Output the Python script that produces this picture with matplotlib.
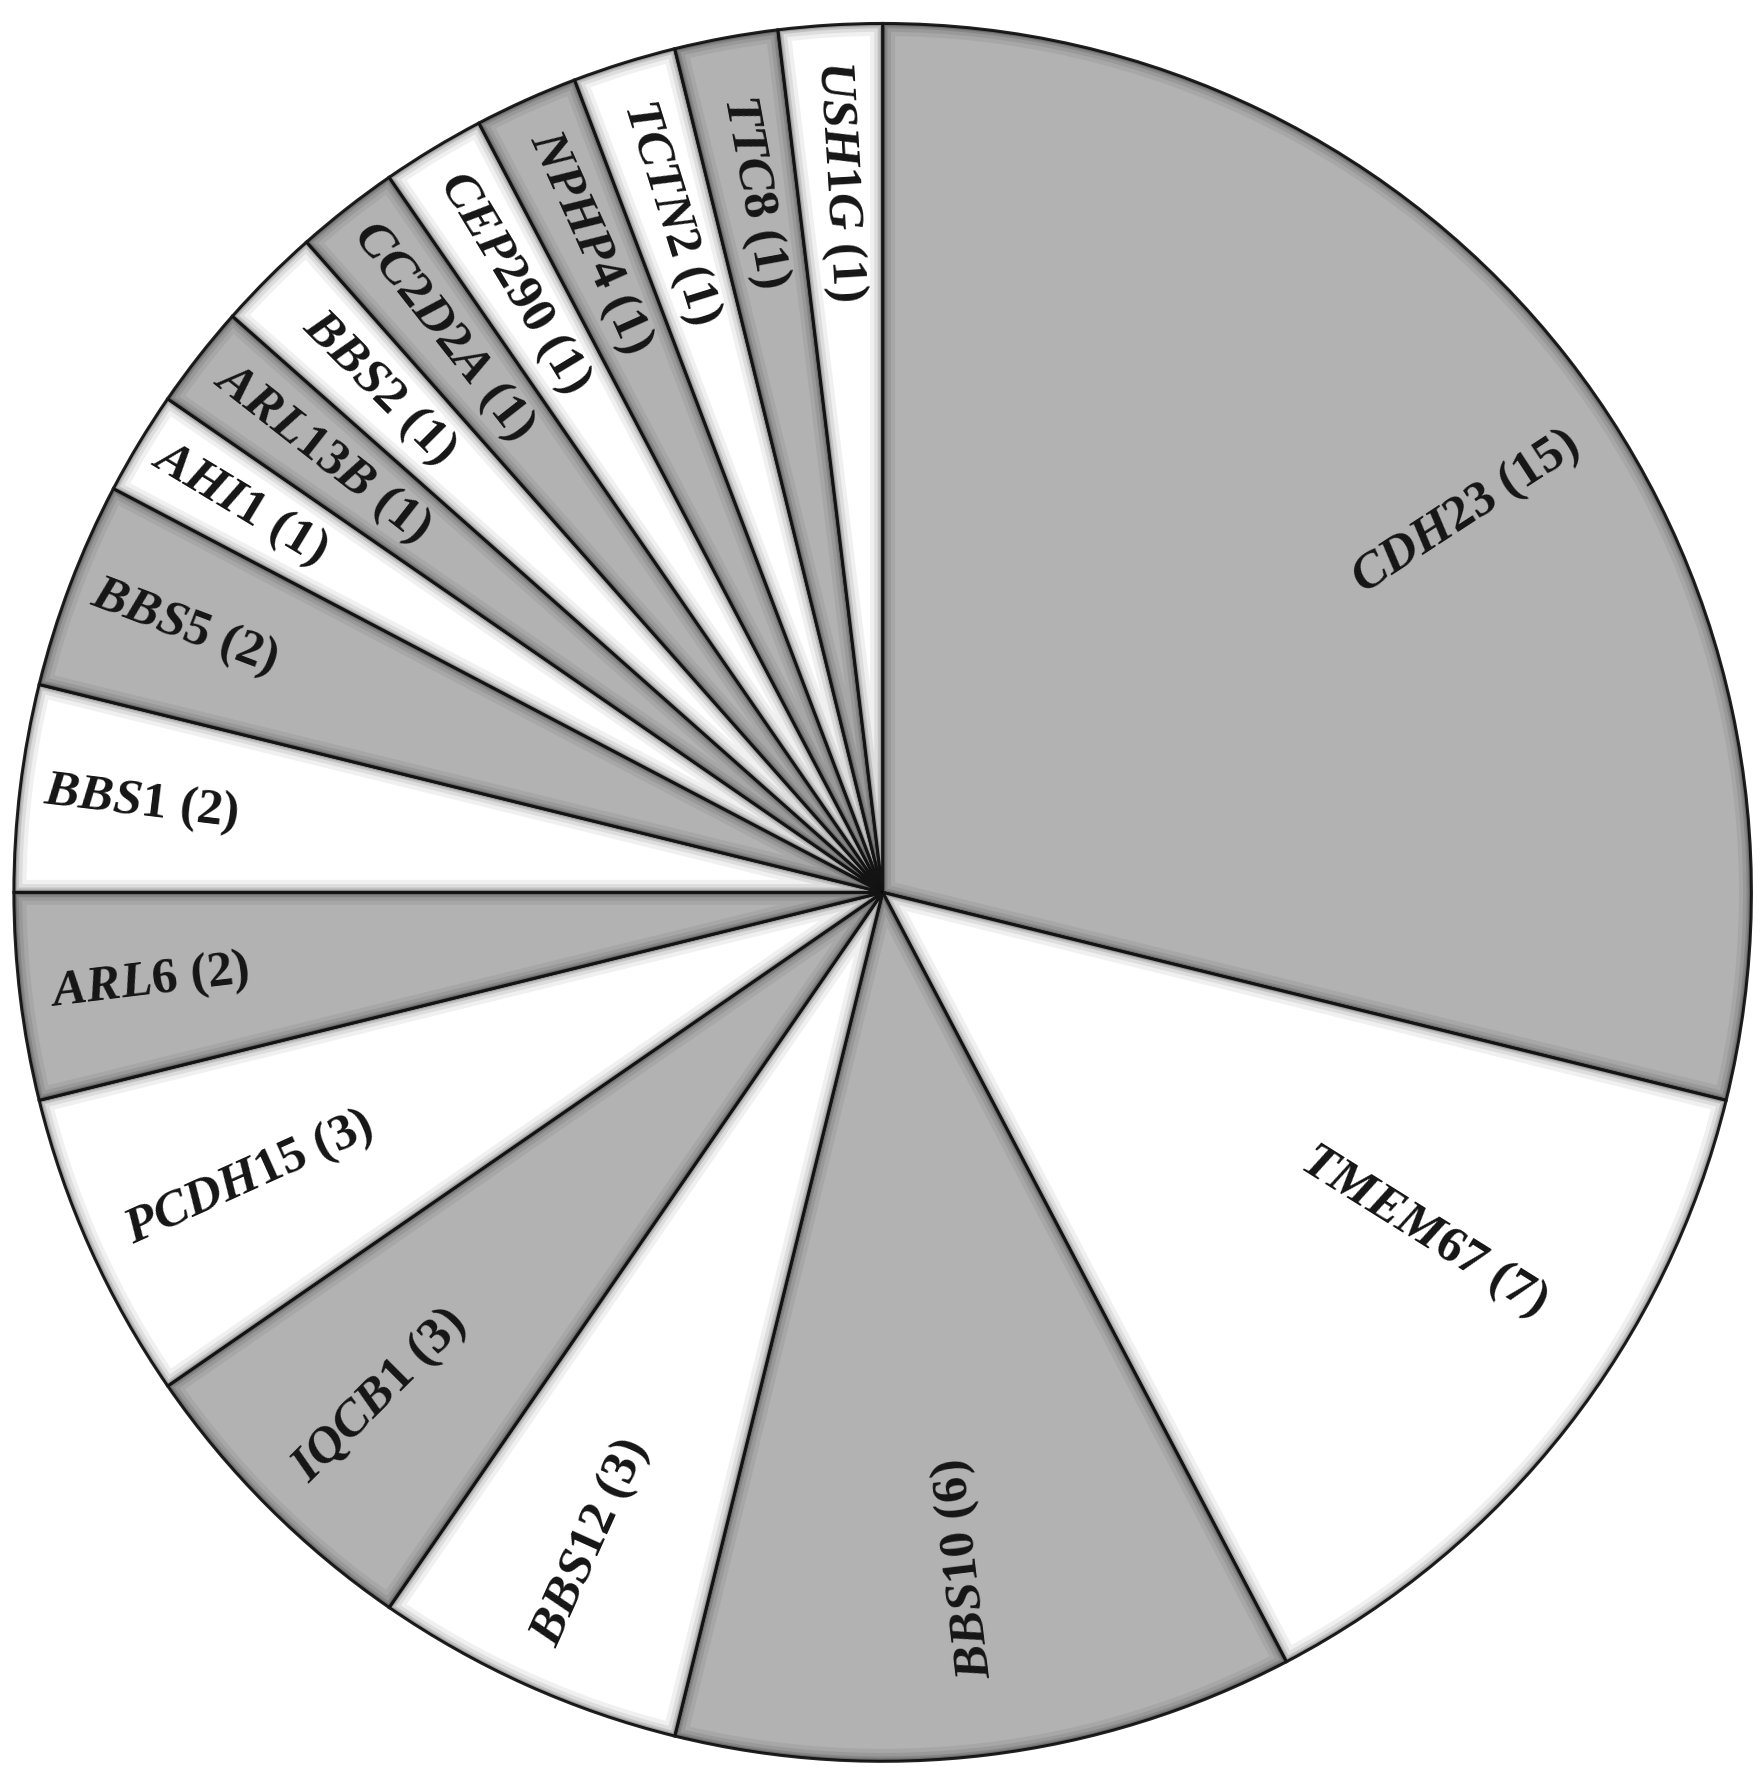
import numpy as np
import matplotlib.pyplot as plt
from matplotlib.patches import Wedge

plt.rcParams['mathtext.fontset'] = 'custom'
plt.rcParams['mathtext.it'] = 'Liberation Serif:italic:bold'
plt.rcParams['mathtext.rm'] = 'Liberation Serif:bold'

# genes and number of patients, clockwise from 12 o'clock
genes = ['CDH23', 'TMEM67', 'BBS10', 'BBS12', 'IQCB1', 'PCDH15', 'ARL6', 'BBS1',
         'BBS5', 'AHI1', 'ARL13B', 'BBS2', 'CC2D2A', 'CEP290', 'NPHP4', 'TCTN2',
         'TTC8', 'USH1G']
counts = [15, 7, 6, 3, 3, 3, 2, 2, 2, 1, 1, 1, 1, 1, 1, 1, 1, 1]

gray = '#b2b2b2'
colors = [gray if i % 2 == 0 else 'white' for i in range(len(genes))]

fig = plt.figure(figsize=(17.64, 17.70), dpi=100)
ax = fig.add_axes([0, 0, 1, 1])

wedges, _ = ax.pie(counts, colors=colors, startangle=90, counterclock=False,
                   radius=1.0,
                   wedgeprops=dict(edgecolor='#222222', linewidth=2.2))

# soft bevel shading along the slice borders
for w in wedges:
    for lw, a in [(18, 0.06), (12, 0.08), (7, 0.12), (4, 0.18)]:
        sh = Wedge(w.center, w.r, w.theta1, w.theta2, facecolor='none',
                   edgecolor='black', linewidth=lw, alpha=a)
        ax.add_patch(sh)
        sh.set_clip_path(w)

# radial labels (radius, angle shift in degrees)
r_default = 0.82
r_special = {'CDH23': (0.80, -5), 'TMEM67': (0.735, 6), 'BBS10': (0.785, 0),
             'BBS1': (0.86, 0), 'ARL6': (0.85, 0), 'BBS5': (0.86, 0),
             'AHI1': (0.865, 0), 'PCDH15': (0.80, 0)}
for w, g, n in zip(wedges, genes, counts):
    r, shift = r_special.get(g, (r_default, 0))
    mid = np.deg2rad((w.theta1 + w.theta2) / 2 + shift)
    x, y = r * np.cos(mid), r * np.sin(mid)
    rot = np.rad2deg(mid) % 360
    if rot > 180:
        rot -= 360
    if x < 0:
        rot += 180
    if y < 0 and rot < -60:
        rot += 180
    ax.text(x, y, r'$\it{' + g + '}$' + ' (%d)' % n, rotation=rot,
            rotation_mode='anchor', ha='center', va='center',
            fontsize=37, family='Liberation Serif', fontweight='bold',
            color='#151515')

ax.set_xlim(-1.016, 1.0145)
ax.set_ylim(-1.010, 1.027)
ax.set_aspect('equal', adjustable='datalim')
ax.axis('off')

plt.savefig('out.png', dpi=100)
